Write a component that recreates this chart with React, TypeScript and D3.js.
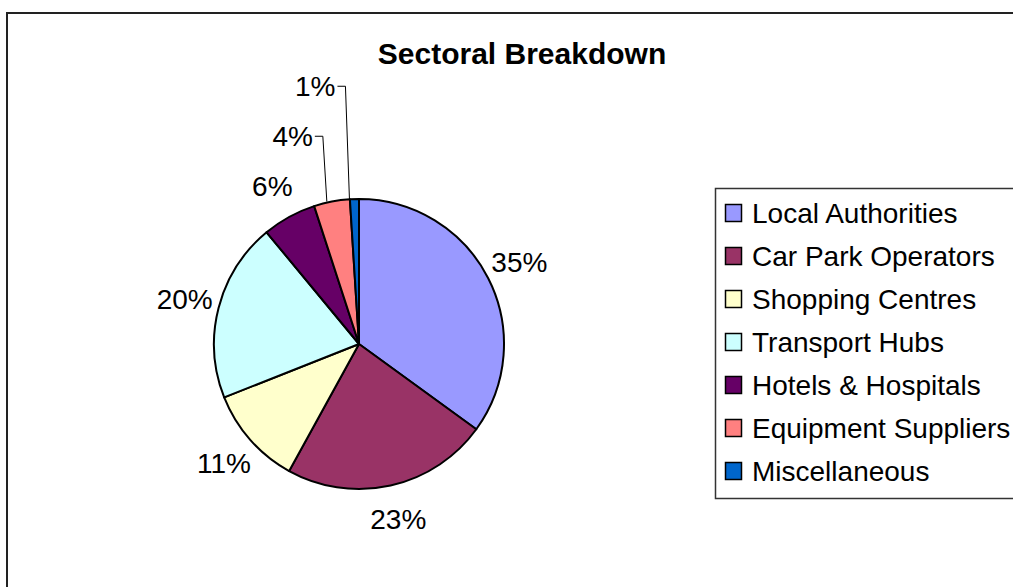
import React, { useEffect, useRef } from "react";
import * as d3 from "d3";

const categories = [
  "Local Authorities",
  "Car Park Operators",
  "Shopping Centres",
  "Transport Hubs",
  "Hotels & Hospitals",
  "Equipment Suppliers",
  "Miscellaneous",
];
const shares = [35, 23, 11, 20, 6, 4, 1];
const colors = ["#9999FF", "#993366", "#FFFFCC", "#CCFFFF", "#660066", "#FF8080", "#0066CC"];

const W = 1013;
const H = 587;

export default function App() {
  const ref = useRef<SVGSVGElement>(null);

  useEffect(() => {
    const svg = d3.select(ref.current);
    svg.selectAll("*").remove();
    const font = "'Liberation Sans', Arial, sans-serif";

    // chart frame (cut off at right and bottom like the source)
    svg.append("rect")
      .attr("x", 7).attr("y", 13)
      .attr("width", W + 10).attr("height", H + 10)
      .attr("fill", "#fff").attr("stroke", "#222").attr("stroke-width", 2);

    svg.append("text")
      .attr("x", 522).attr("y", 64)
      .attr("text-anchor", "middle")
      .attr("font-family", font).attr("font-weight", "bold").attr("font-size", 30)
      .text("Sectoral Breakdown");

    const cx = 359, cy = 344, r = 145;
    const data = categories.map((name, i) => ({ name, value: shares[i], color: colors[i] }));
    const pie = d3.pie<any>().sort(null).value(d => d.value).startAngle(0).endAngle(2 * Math.PI);
    const arcs = pie(data);
    const arc = d3.arc<any>().innerRadius(0).outerRadius(r);

    const g = svg.append("g").attr("transform", `translate(${cx},${cy})`);
    g.selectAll("path")
      .data(arcs)
      .join("path")
      .attr("d", arc)
      .attr("fill", d => d.data.color)
      .attr("stroke", "#000")
      .attr("stroke-width", 2)
      .attr("stroke-linejoin", "round");

    // labels: regular ones sit on a ring, tiny slices get stacked with leader lines
    const labelR = 180;
    let lastY = 0;
    arcs.forEach(d => {
      const a = (d.startAngle + d.endAngle) / 2;
      const txt = `${d.data.value}%`;
      if (d.data.value >= 5) {
        const x = Math.sin(a) * labelR;
        const y = -Math.cos(a) * labelR;
        lastY = y;
        g.append("text")
          .attr("x", x).attr("y", y).attr("dy", "0.35em")
          .attr("text-anchor", "middle")
          .attr("font-family", font).attr("font-size", 28)
          .text(txt);
      } else {
        const ax = Math.sin(a) * r - 5;
        const ay = -Math.cos(a) * r;
        const y = lastY - 50;
        lastY = y;
        g.append("path")
          .attr("d", `M${ax},${ay}L${ax - 4},${y}L${ax - 12},${y}`)
          .attr("fill", "none").attr("stroke", "#000").attr("stroke-width", 1);
        g.append("text")
          .attr("x", ax - 14).attr("y", y).attr("dy", "0.35em")
          .attr("text-anchor", "end")
          .attr("font-family", font).attr("font-size", 28)
          .text(txt);
      }
    });

    // legend
    const lx = 715.5, ly = 188.5;
    svg.append("rect")
      .attr("x", lx).attr("y", ly)
      .attr("width", W - lx + 20).attr("height", 310)
      .attr("fill", "#fff").attr("stroke", "#333").attr("stroke-width", 1.5);

    const rowY = d3.scalePoint<string>().domain(categories).range([213, 471]);
    const item = svg.append("g").selectAll("g")
      .data(data)
      .join("g")
      .attr("transform", d => `translate(0,${rowY(d.name)})`);
    item.append("rect")
      .attr("x", 725.5).attr("y", -8.5).attr("width", 16).attr("height", 17)
      .attr("fill", d => d.color).attr("stroke", "#000").attr("stroke-width", 1.5);
    item.append("text")
      .attr("x", 752).attr("dy", "0.35em")
      .attr("font-family", font).attr("font-size", 28)
      .text(d => d.name);
  }, []);

  return (
    <svg
      ref={ref}
      width={W}
      height={H}
      style={{ position: "absolute", left: 0, top: 0, background: "#fff" }}
    />
  );
}
